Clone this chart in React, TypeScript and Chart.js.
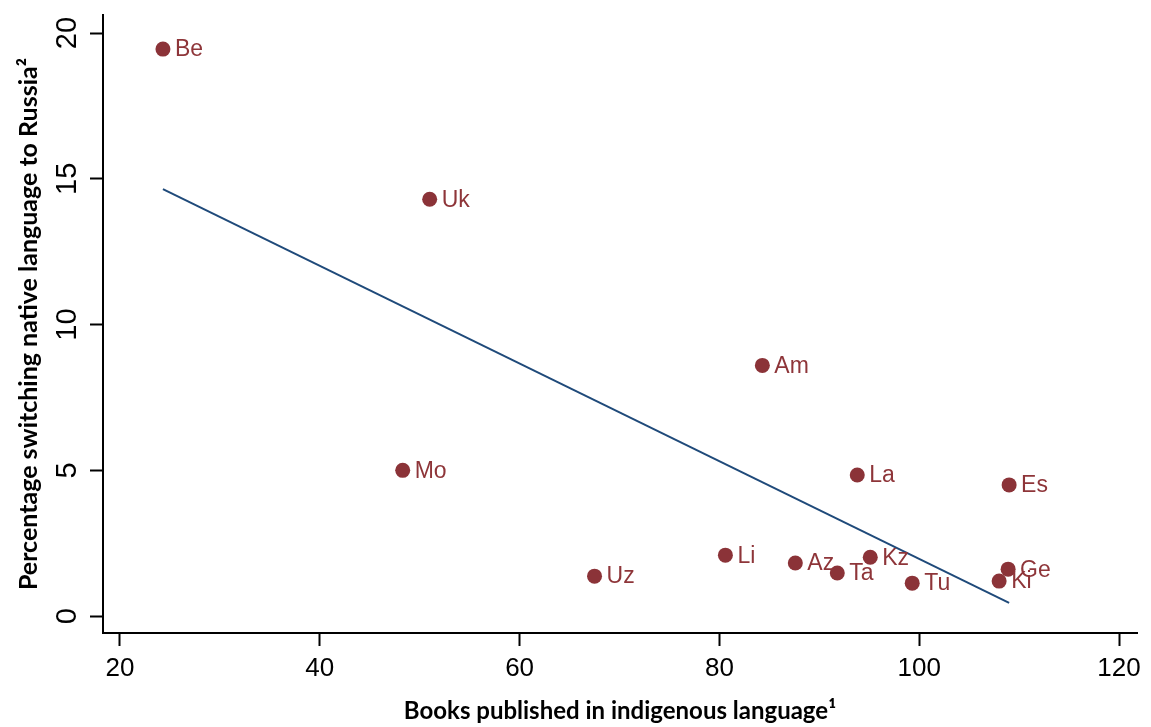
import React, { useEffect, useRef } from 'react';
import { Chart, registerables } from 'chart.js';

Chart.register(...registerables);

// Republic codes
const codes = ['Be', 'Uk', 'Am', 'Mo', 'La', 'Es', 'Uz', 'Li', 'Az', 'Ta', 'Kz', 'Tu', 'Ge', 'Ki'];
// Books published in indigenous language
const books = [24.3, 51.0, 84.3, 48.3, 93.8, 109.0, 67.5, 80.6, 87.6, 91.8, 95.1, 99.3, 108.9, 108.0];
// Percentage switching native language to Russian
const switching = [19.45, 14.3, 8.6, 5.0, 4.84, 4.5, 1.37, 2.09, 1.82, 1.48, 2.02, 1.13, 1.61, 1.2];
// Fitted line end points
const fitX = [24.3, 109.0];
const fitY = [14.65, 0.45];

const xTicks = [20, 40, 60, 80, 100, 120];
const yTicks = [0, 5, 10, 15, 20];

const pointColor = '#8B3338';
const labelColor = '#8E3539';
const lineColor = '#1F4A7A';
const tickFont = "'Liberation Sans', Arial, sans-serif";
const titleFont = "Lato, 'Open Sans', sans-serif";

const labelPlugin = {
  id: 'pointLabels',
  afterDatasetsDraw(chart: any) {
    const meta = chart.getDatasetMeta(0);
    const ctx = chart.ctx;
    ctx.save();
    ctx.font = `23px ${tickFont}`;
    ctx.fillStyle = labelColor;
    ctx.textBaseline = 'middle';
    ctx.textAlign = 'left';
    meta.data.forEach((el: any, i: number) => {
      ctx.fillText(codes[i], el.x + 12, el.y + 1);
    });
    ctx.restore();
  },
};

export default function App() {
  const ref = useRef<HTMLCanvasElement>(null);

  useEffect(() => {
    if (!ref.current) return;
    const chart = new Chart(ref.current, {
      type: 'scatter',
      data: {
        datasets: [
          {
            label: 'Republics',
            data: books.map((b, i) => ({ x: b, y: switching[i] })),
            backgroundColor: pointColor,
            borderWidth: 0,
            pointRadius: 7.5,
            order: 0,
          },
          {
            label: 'Fit',
            data: fitX.map((x, i) => ({ x, y: fitY[i] })),
            showLine: true,
            borderColor: lineColor,
            borderWidth: 2,
            pointRadius: 0,
            order: 1,
          } as any,
        ],
      },
      options: {
        animation: false,
        responsive: false,
        layout: { padding: { top: 15, right: 14, bottom: 0, left: 0 } },
        plugins: { legend: { display: false }, tooltip: { enabled: false } },
        scales: {
          x: {
            type: 'linear',
            min: 18.3,
            max: 121.8,
            afterBuildTicks: (s: any) => {
              s.ticks = xTicks.map((v) => ({ value: v }));
            },
            afterFit: (s: any) => {
              s.height = 94;
              s.paddingLeft = 0;
              s.paddingRight = 0;
            },
            grid: {
              display: true,
              drawOnChartArea: false,
              drawTicks: true,
              tickLength: 13,
              tickWidth: 2,
              tickColor: '#000',
            },
            border: { display: true, color: '#000', width: 2 },
            ticks: {
              font: { family: tickFont, size: 26 },
              color: '#000',
              padding: 7,
              maxRotation: 0,
              autoSkip: false,
            },
            title: {
              display: true,
              text: 'Books published in indigenous language¹',
              font: { family: titleFont, weight: 'bold', size: 24 },
              color: '#000',
              padding: { top: 0, bottom: 1 },
            },
          },
          y: {
            type: 'linear',
            min: -0.58,
            max: 20.62,
            afterBuildTicks: (s: any) => {
              s.ticks = yTicks.map((v) => ({ value: v }));
            },
            afterFit: (s: any) => {
              s.width = 103;
              s.paddingTop = 0;
              s.paddingBottom = 0;
            },
            grid: {
              display: true,
              drawOnChartArea: false,
              drawTicks: true,
              tickLength: 13,
              tickWidth: 2,
              tickColor: '#000',
            },
            border: { display: true, color: '#000', width: 2 },
            ticks: {
              font: { family: tickFont, size: 29 },
              color: '#000',
              padding: 6,
              minRotation: 90,
              maxRotation: 90,
              crossAlign: 'center',
              autoSkip: false,
            },
            title: {
              display: true,
              text: 'Percentage switching native language to Russia²',
              font: { family: titleFont, weight: 'bold', size: 25 },
              color: '#000',
              padding: { top: 14, bottom: 0 },
            },
          },
        },
      } as any,
      plugins: [labelPlugin],
    });
    return () => chart.destroy();
  }, []);

  return (
    <div style={{ position: 'absolute', left: 0, top: 0, width: 1151, height: 727, background: '#fff' }}>
      <canvas ref={ref} width={1151} height={727} style={{ display: 'block' }} />
    </div>
  );
}
